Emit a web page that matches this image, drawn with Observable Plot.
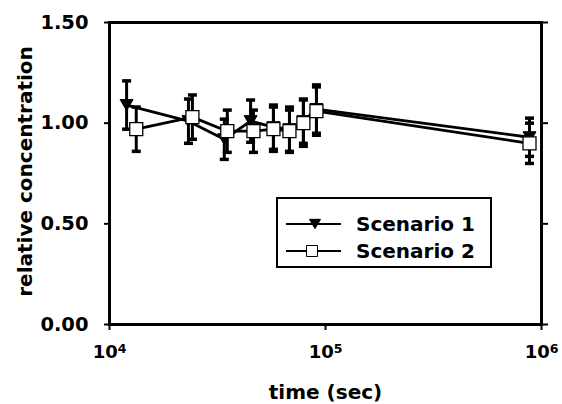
<!DOCTYPE html>
<html><head><meta charset="utf-8">
<script src="https://cdn.jsdelivr.net/npm/d3@7"></script>
<script src="https://cdn.jsdelivr.net/npm/@observablehq/plot@0.6"></script>
<style>body{margin:0;background:#fff} svg{display:block}</style>
</head><body><div id="chart"></div>
<script>
// Scenario 1 (filled down-triangles)
const s1Time  = [12000, 23200, 34000, 45000, 57400, 68100, 79000, 90800, 880000];
const s1Value = [1.09, 1.01, 0.92, 1.01, 0.98, 0.97, 1.01, 1.07, 0.93];
const s1Err   = [0.12, 0.11, 0.10, 0.105, 0.11, 0.11, 0.11, 0.12, 0.095];
// Scenario 2 (open squares)
const s2Time  = [13300, 24200, 35100, 46400, 57400, 68100, 79000, 90800, 880000];
const s2Value = [0.97, 1.03, 0.96, 0.96, 0.97, 0.96, 1.00, 1.06, 0.90];
const s2Err   = [0.11, 0.11, 0.105, 0.105, 0.11, 0.105, 0.115, 0.12, 0.10];
const seriesNames = ["Scenario 1", "Scenario 2"];
const xTicks = [1e4, 1e5, 1e6];
const yTicks = [0, 0.5, 1.0, 1.5];
const xTitle = "time (sec)";
const yTitle = "relative concentration";

const s1 = s1Time.map((t, i) => ({t, v: s1Value[i], e: s1Err[i]}));
const s2 = s2Time.map((t, i) => ({t, v: s2Value[i], e: s2Err[i]}));

const triDown = {draw(ctx, size) { const r = Math.sqrt(size / Math.PI); const h = r * 0.85;
  ctx.moveTo(-r, -h); ctx.lineTo(r, -h); ctx.lineTo(0, h); ctx.closePath(); }};
const square = {draw(ctx, size) { const r = Math.sqrt(size / Math.PI);
  ctx.moveTo(-r, -r); ctx.lineTo(r, -r); ctx.lineTo(r, r); ctx.lineTo(-r, r); ctx.closePath(); }};
const cap = {draw(ctx, size) { const r = Math.sqrt(size / Math.PI);
  ctx.moveTo(-r, 0); ctx.lineTo(r, 0); }};

const FONT = "DejaVu Sans";
const plot = Plot.plot({
  width: 562, height: 404,
  marginLeft: 109, marginRight: 21, marginTop: 22, marginBottom: 80,
  style: {fontFamily: FONT, fontWeight: "bold", fontSize: "19.5px", background: "#fff", color: "#000"},
  x: {type: "log", domain: [1e4, 1e6]},
  y: {domain: [0, 1.5]},
  marks: [
    Plot.axisY({ticks: yTicks, tickFormat: d3.format(".2f"), tickSize: 5, tickPadding: 16, strokeWidth: 2, label: null}),
    Plot.axisY({ticks: yTicks, anchor: "right", tickSize: 6, tickFormat: () => "", strokeWidth: 2, label: null}),
    Plot.axisX({ticks: xTicks, tickFormat: d => "10^" + Math.round(Math.log10(d)), tickSize: 6, tickPadding: 15, strokeWidth: 2, label: null}),
    Plot.frame({stroke: "#000", strokeWidth: 3}),
    Plot.line(s1, {x: "t", y: "v", stroke: "#000", strokeWidth: 2.8}),
    Plot.line(s2, {x: "t", y: "v", stroke: "#000", strokeWidth: 2.8}),
    Plot.ruleX(s1, {x: "t", y1: d => d.v - d.e, y2: d => d.v + d.e, stroke: "#000", strokeWidth: 3}),
    Plot.ruleX(s2, {x: "t", y1: d => d.v - d.e, y2: d => d.v + d.e, stroke: "#000", strokeWidth: 3}),
    Plot.dot(s1, {x: "t", y: d => d.v - d.e, symbol: cap, r: 4.5, stroke: "#000", strokeWidth: 3.5}),
    Plot.dot(s1, {x: "t", y: d => d.v + d.e, symbol: cap, r: 4.5, stroke: "#000", strokeWidth: 3.5}),
    Plot.dot(s2, {x: "t", y: d => d.v - d.e, symbol: cap, r: 4.5, stroke: "#000", strokeWidth: 3.5}),
    Plot.dot(s2, {x: "t", y: d => d.v + d.e, symbol: cap, r: 4.5, stroke: "#000", strokeWidth: 3.5}),
    Plot.dot(s1, {x: "t", y: "v", symbol: triDown, r: 6.5, fill: "#000", stroke: "#000", strokeWidth: 1}),
    Plot.dot(s2, {x: "t", y: "v", symbol: square, r: 6.5, fill: "#fff", stroke: "#000", strokeWidth: 1.3})
  ]
});
document.getElementById("chart").appendChild(plot);

const svg = d3.select(plot);
// superscript exponents on x tick labels
svg.selectAll('g[aria-label="x-axis tick label"] text').each(function() {
  const txt = d3.select(this).text();
  const m = txt.match(/^10\^(\d+)$/);
  if (!m) return;
  const el = d3.select(this);
  el.text(null).style("font-size", "18px");
  el.append("tspan").text("10");
  el.append("tspan").attr("dy", "-0.45em").style("font-size", "12.5px").text(m[1]);
});

// axis titles
svg.append("text").attr("transform", "translate(31.5,171.5) rotate(-90)")
  .attr("text-anchor", "middle").style("font-size", "20px").text(yTitle);
svg.append("text").attr("x", 325.5).attr("y", 399)
  .attr("text-anchor", "middle").style("font-size", "20px").text(xTitle);

// legend
const lg = svg.append("g").attr("text-anchor", "start");
lg.append("rect").attr("x", 277).attr("y", 198).attr("width", 214).attr("height", 69)
  .attr("fill", "#fff").attr("stroke", "#000").attr("stroke-width", 2);
const rows = [{y: 224, sym: triDown, fill: "#000", mx: 315}, {y: 251, sym: square, fill: "#fff", mx: 312}];
rows.forEach((r, i) => {
  lg.append("line").attr("x1", 286).attr("x2", 341).attr("y1", r.y).attr("y2", r.y)
    .attr("stroke", "#000").attr("stroke-width", 2);
  lg.append("path").attr("d", d3.symbol(r.sym, Math.PI * 5.5 * 5.5)())
    .attr("transform", `translate(${r.mx},${r.y})`)
    .attr("fill", r.fill).attr("stroke", "#000").attr("stroke-width", 1);
  lg.append("text").attr("x", 356).attr("y", r.y).attr("dy", "0.36em")
    .attr("text-anchor", "start").style("font-size", "20px").text(seriesNames[i]);
});
</script>
</body></html>
